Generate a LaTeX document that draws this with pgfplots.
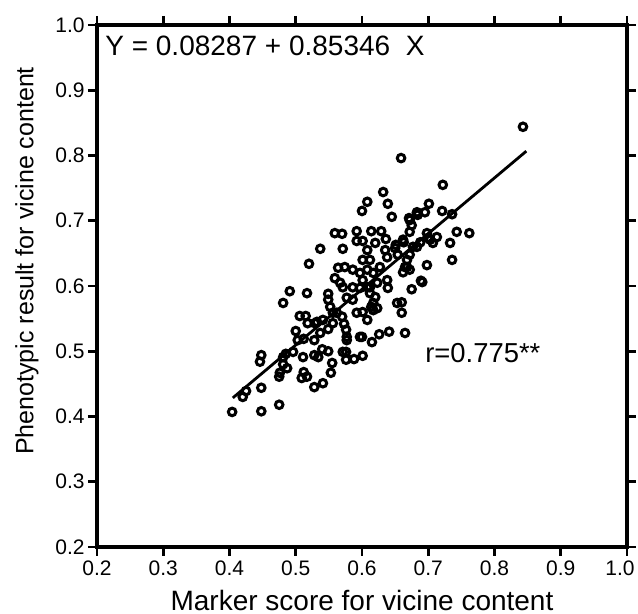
\documentclass[border=0pt]{standalone}
\usepackage{pgfplots}
\pgfplotsset{compat=1.18}
\usepackage{fontspec}
\setmainfont{Liberation Sans}
\begin{document}
\begin{tikzpicture}
\useasboundingbox (-48.5pt,-33.5pt) rectangle (270.5pt,273.5pt);
\begin{axis}[
  at={(0pt,0pt)}, anchor=south west,
  scale only axis, width=265pt, height=261pt,
  xmin=0.2, xmax=1, ymin=0.2, ymax=1,
  xtick={0.2,0.3,0.4,0.5,0.6,0.7,0.8,0.9},
  extra x ticks={1.0},
  extra x tick style={xticklabel style={xshift=-3.5pt}},
  ytick={0.2,0.3,0.4,0.5,0.6,0.7,0.8,0.9,1.0},
  tick align=outside,
  major tick length=4.5pt,
  major tick style={black, line width=1.3pt},
  axis line style={black, line width=1.7pt},
  tick label style={font=\fontsize{10.5}{12}\selectfont},
  xticklabel style={inner sep=2pt},
  yticklabel style={inner sep=1.5pt},
  /pgf/number format/.cd, fixed, fixed zerofill, precision=1, assume math mode=true,
  /pgfplots/.cd,
  xlabel={Marker score for vicine content},
  ylabel={Phenotypic result for vicine content},
  xlabel style={font=\fontsize{14}{16}\selectfont, at={(axis description cs:0.5,-0.1226)}, anchor=base},
  ylabel style={font=\fontsize{12.5}{15}\selectfont, at={(axis description cs:-0.12,0.548)}, anchor=base, rotate=0},
  clip=false,
]
\addplot[only marks, mark=o, mark size=1.9pt, mark options={line width=1.5pt, black}] coordinates {
(0.404,0.407) (0.448,0.408) (0.475,0.418) (0.420,0.430) (0.425,0.439)
(0.448,0.444) (0.528,0.445) (0.541,0.451) (0.509,0.459) (0.517,0.461)
(0.512,0.468) (0.553,0.467) (0.475,0.461) (0.476,0.467) (0.487,0.474)
(0.555,0.482) (0.481,0.480) (0.446,0.484) (0.448,0.494) (0.481,0.491)
(0.485,0.496) (0.496,0.499) (0.511,0.491) (0.528,0.494) (0.534,0.491)
(0.540,0.503) (0.549,0.500) (0.571,0.499) (0.576,0.499) (0.576,0.487)
(0.588,0.488) (0.601,0.493) (0.503,0.517) (0.512,0.519) (0.528,0.517)
(0.500,0.531) (0.506,0.554) (0.515,0.554) (0.518,0.543) (0.529,0.543)
(0.537,0.528) (0.549,0.534) (0.573,0.542) (0.576,0.533) (0.577,0.522)
(0.577,0.517) (0.597,0.522) (0.600,0.522) (0.615,0.514) (0.626,0.526)
(0.641,0.530) (0.665,0.528) (0.491,0.592) (0.517,0.589) (0.481,0.574)
(0.549,0.588) (0.549,0.579) (0.552,0.568) (0.556,0.559) (0.577,0.582)
(0.586,0.579) (0.570,0.553) (0.562,0.559) (0.592,0.559) (0.601,0.560)
(0.608,0.548) (0.617,0.563) (0.612,0.589) (0.617,0.574) (0.620,0.583)
(0.639,0.597) (0.653,0.574) (0.660,0.575) (0.660,0.559) (0.675,0.595)
(0.541,0.548) (0.532,0.545) (0.571,0.598) (0.586,0.598) (0.597,0.597)
(0.608,0.598) (0.623,0.605) (0.614,0.568) (0.623,0.566) (0.691,0.606)
(0.556,0.543)
(0.632,0.744) (0.608,0.729) (0.600,0.715) (0.639,0.726) (0.645,0.706)
(0.659,0.796) (0.559,0.681) (0.570,0.680) (0.592,0.684) (0.614,0.684)
(0.629,0.684) (0.636,0.672) (0.592,0.669) (0.601,0.669) (0.620,0.666)
(0.608,0.655) (0.537,0.657) (0.571,0.657) (0.520,0.634) (0.564,0.628)
(0.574,0.629) (0.586,0.625) (0.601,0.640) (0.612,0.640) (0.559,0.612)
(0.567,0.605) (0.597,0.620) (0.608,0.625) (0.617,0.620) (0.627,0.629)
(0.601,0.609) (0.612,0.598) (0.638,0.609) (0.635,0.655) (0.638,0.644)
(0.650,0.658) (0.662,0.671) (0.654,0.648) (0.668,0.640) (0.672,0.701)
(0.675,0.693) (0.683,0.712) (0.672,0.683) (0.677,0.660) (0.672,0.625)
(0.668,0.629) (0.662,0.621) (0.843,0.844) (0.722,0.755) (0.701,0.726)
(0.683,0.713) (0.684,0.709) (0.695,0.713) (0.671,0.704) (0.721,0.715)
(0.736,0.710) (0.743,0.683) (0.762,0.681) (0.733,0.666) (0.736,0.640)
(0.698,0.681) (0.700,0.674) (0.707,0.666) (0.713,0.675) (0.688,0.667)
(0.683,0.660) (0.672,0.648) (0.663,0.667) (0.698,0.632) (0.689,0.608)
(0.665,0.629) (0.703,0.671) (0.651,0.663)
};
\addplot[black, line width=1.4pt, no marks] coordinates {(0.405,0.4285) (0.848,0.8066)};
\node[anchor=base west, font=\fontsize{14}{16}\selectfont, inner sep=0pt] at (axis cs:0.212,0.9525) {Y = 0.08287 + 0.85346\hspace{0.56em}X};
\node[anchor=base west, font=\fontsize{13.7}{16}\selectfont, inner sep=0pt] at (axis cs:0.695,0.482) {r=0.775**};
\end{axis}
\end{tikzpicture}
\end{document}
